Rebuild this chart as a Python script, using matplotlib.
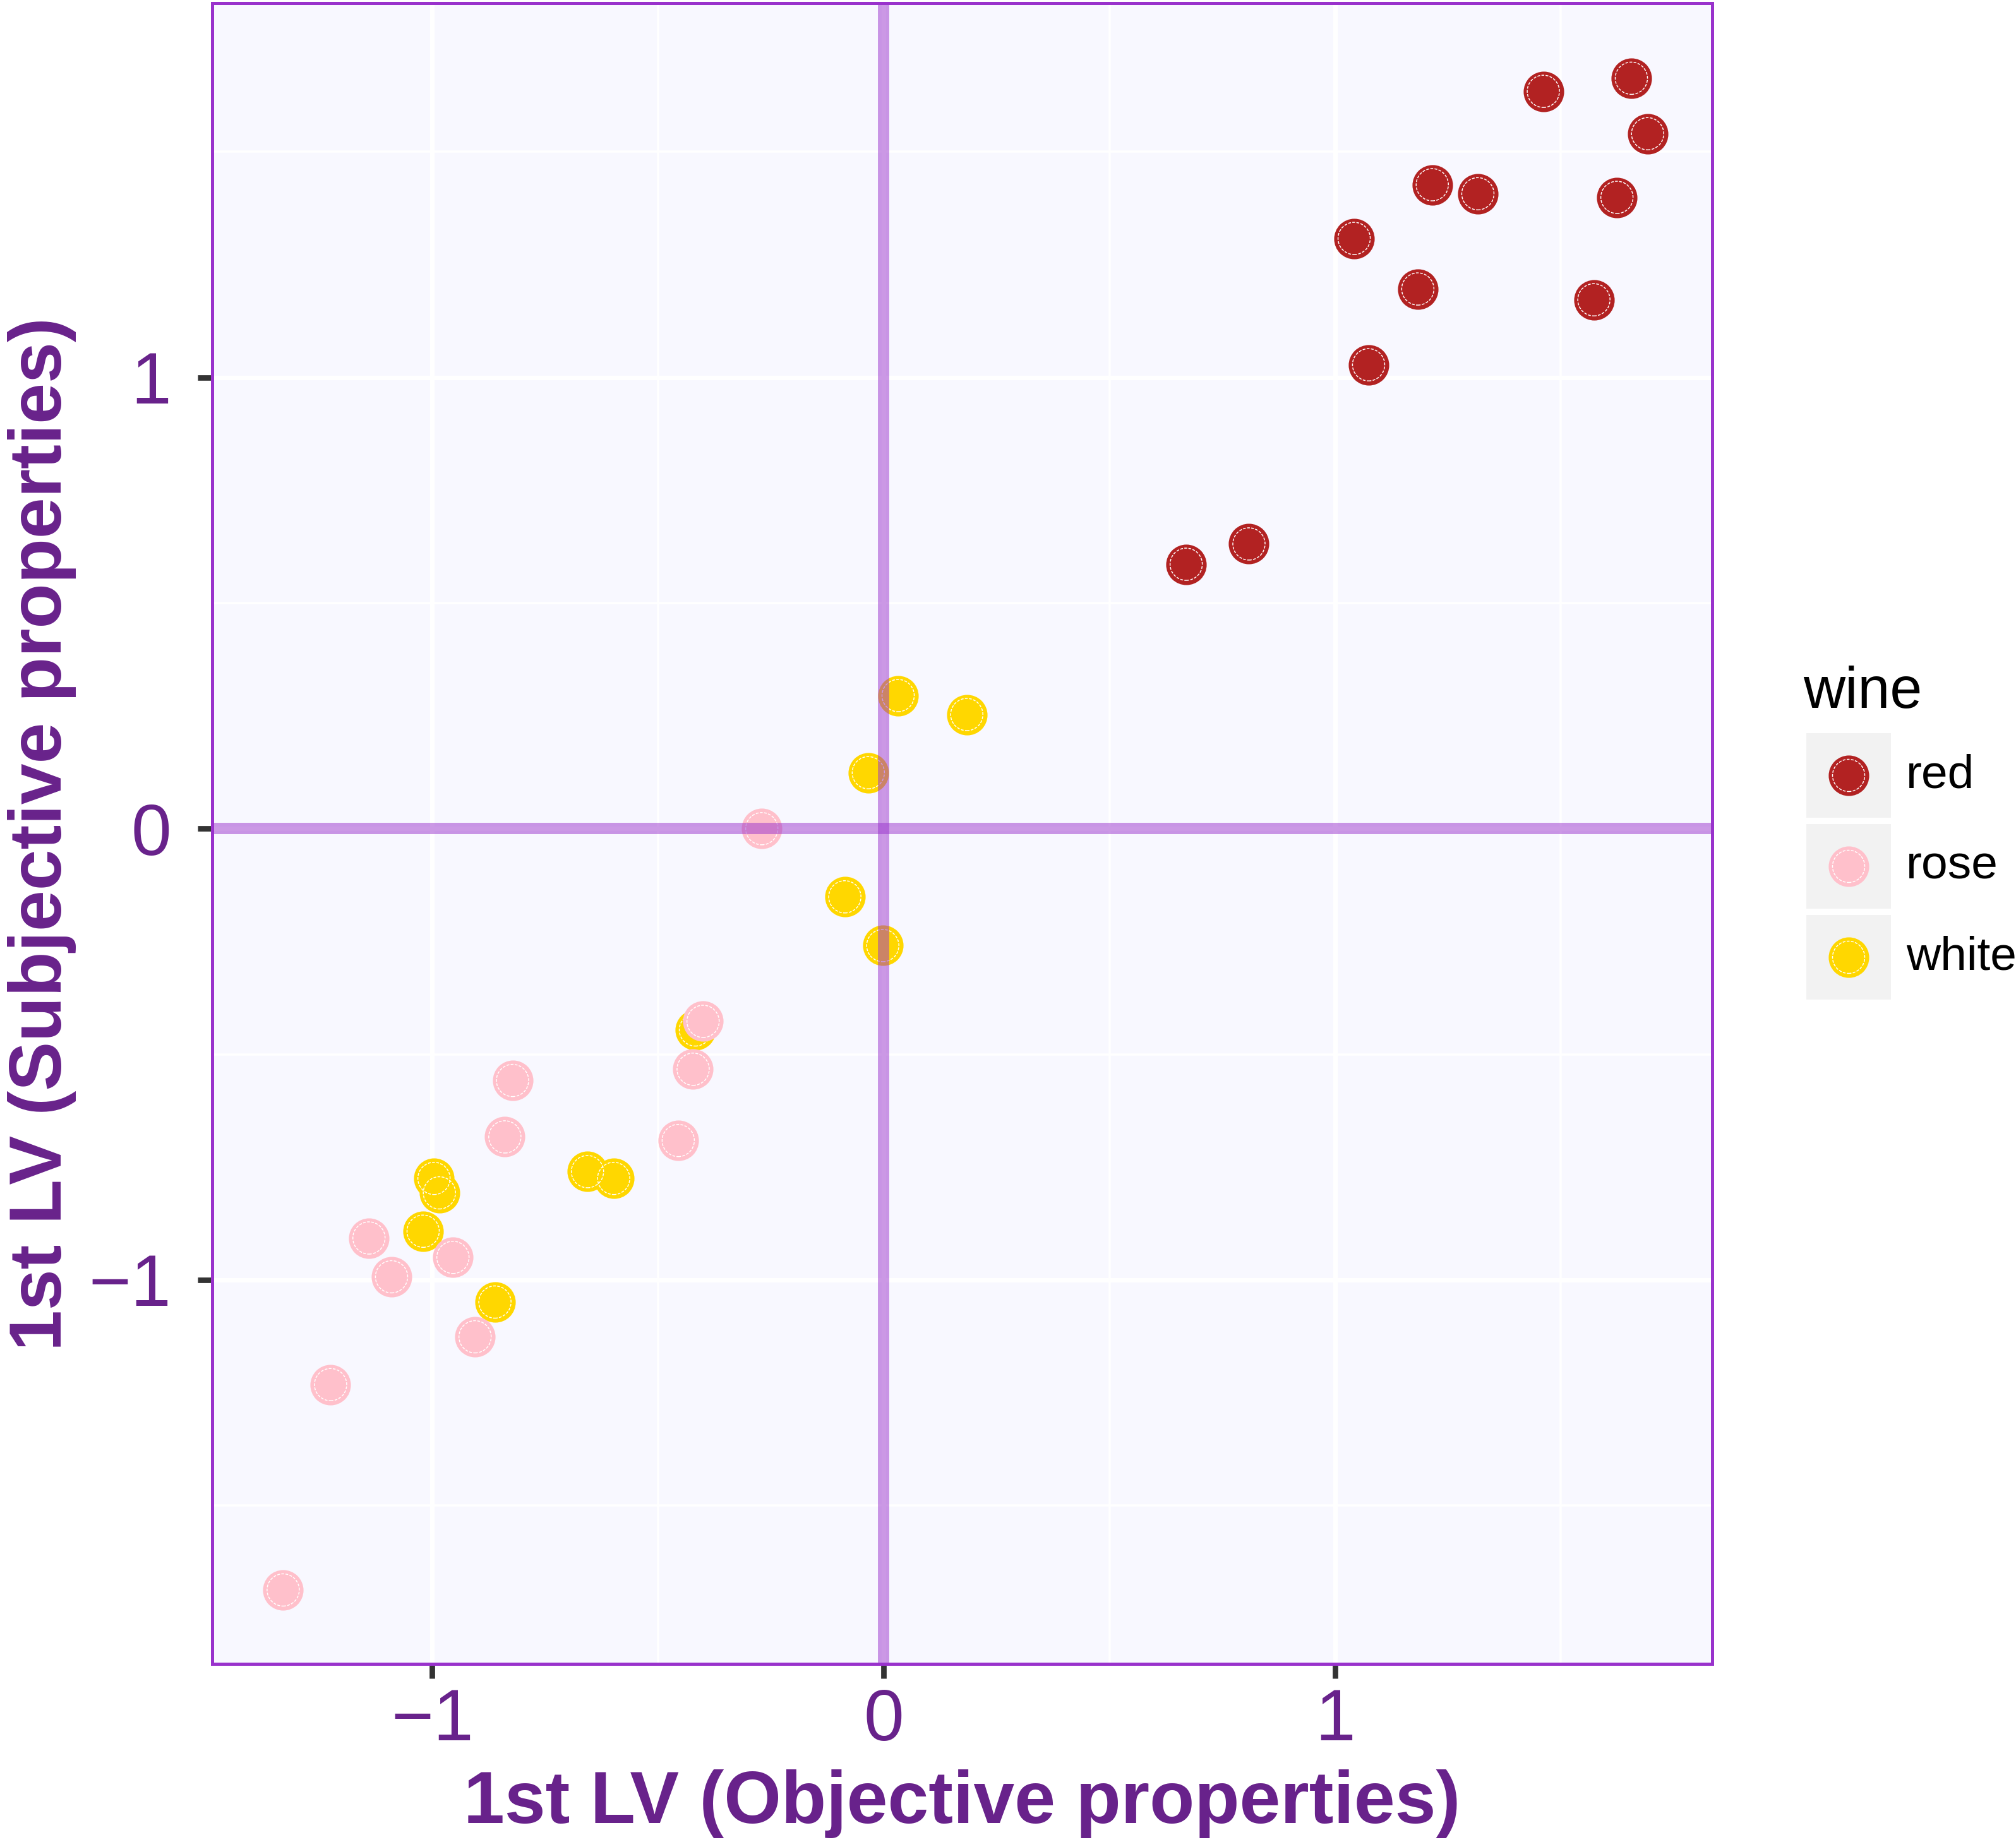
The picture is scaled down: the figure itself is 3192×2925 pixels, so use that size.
import matplotlib
matplotlib.use("Agg")
import matplotlib.pyplot as plt
from matplotlib.patches import Rectangle

plt.rcParams["font.family"] = ["Liberation Sans", "DejaVu Sans"]

# Data (latent variable scores)
red_x = [1.461, 1.656, 1.692, 1.215, 1.316, 1.624, 1.042, 1.183, 1.573, 1.074, 0.809, 0.670]
red_y = [1.634, 1.663, 1.540, 1.427, 1.407, 1.399, 1.308, 1.196, 1.172, 1.028, 0.631, 0.586]

white_x = [0.032, 0.184, -0.034, -0.086, -0.002, -0.417, -0.656, -0.598, -0.996, -0.984, -1.020, -0.861]
white_y = [0.295, 0.253, 0.124, -0.151, -0.259, -0.446, -0.760, -0.775, -0.775, -0.807, -0.892, -1.049]

rose_x = [-0.270, -0.400, -0.422, -0.822, -0.839, -0.455, -1.140, -0.954, -1.090, -0.905, -1.225, -1.330]
rose_y = [0.0, -0.427, -0.533, -0.558, -0.683, -0.691, -0.907, -0.950, -0.993, -1.126, -1.232, -1.687]

wines = ["red", "rose", "white"]
colors = {"red": "#B22222", "rose": "#FFC0CB", "white": "#FFD700"}
series = {"white": (white_x, white_y), "rose": (rose_x, rose_y), "red": (red_x, red_y)}

purple = "#68228B"
orchid = "#9932CC"
S_FILL = 237
S_RING = 150

fig = plt.figure(figsize=(10.64, 9.75), dpi=300)
ax = fig.add_axes([0.1053, 0.0991, 0.7440, 0.8991])
ax.set_facecolor("#F8F8FF")

# points: filled circle + thin dashed white ring
for name in ["white", "rose", "red"]:
    xs, ys = series[name]
    ax.scatter(xs, ys, s=S_FILL, color=colors[name], linewidths=0, zorder=2)
    ax.scatter(xs, ys, s=S_RING, facecolors="none", edgecolors="white",
               linewidths=0.35, linestyles=(0, (3, 1.5)), zorder=2)

# reference lines
ax.axhline(0, color=orchid, alpha=0.5, lw=4.3, zorder=3)
ax.axvline(0, color=orchid, alpha=0.5, lw=4.3, zorder=3)

ax.set_xlim(-1.487, 1.835)
ax.set_ylim(-1.851, 1.829)
ax.set_xticks([-1, 0, 1])
ax.set_yticks([-1, 0, 1])
ax.set_xticks([-0.5, 0.5, 1.5], minor=True)
ax.set_yticks([-1.5, -0.5, 0.5, 1.5], minor=True)
ax.set_axisbelow(True)
ax.grid(which="major", color="white", lw=1.7)
ax.grid(which="minor", color="white", lw=0.85)
ax.tick_params(which="major", length=5.6, width=2.1, color="#333333",
               labelsize=27.5, labelcolor=purple)
ax.tick_params(axis="x", which="major", pad=3.5)
ax.tick_params(axis="y", which="major", pad=10)
ax.tick_params(which="minor", length=0)
for sp in ax.spines.values():
    sp.set_color(orchid)
    sp.set_linewidth(1.2)

ax.set_xlabel("1st LV (Objective properties)", fontsize=28, fontweight="bold",
              color=purple, va="center")
ax.set_ylabel("1st LV (Subjective properties)", fontsize=28, fontweight="bold",
              color=purple, va="center")
ax.xaxis.set_label_coords(0.5, -0.084)
ax.yaxis.set_label_coords(-0.1134, 0.5)

# legend drawn in figure pixel space
lax = fig.add_axes([0, 0, 1, 1], zorder=5)
lax.set_xlim(0, 3192)
lax.set_ylim(2925, 0)
lax.axis("off")
lax.text(2855, 1121, "wine", fontsize=22, color="black", va="baseline", ha="left")
for i, name in enumerate(wines):
    y0 = 1161 + i * 144
    lax.add_patch(Rectangle((2860, y0), 134, 134, facecolor="#F2F2F2", edgecolor="none"))
    lax.scatter([2927], [y0 + 67], s=S_FILL, color=colors[name], linewidths=0)
    lax.scatter([2927], [y0 + 67], s=S_RING, facecolors="none", edgecolors="white",
                linewidths=0.35, linestyles=(0, (3, 1.5)))
    lax.text(3018, y0 + 67, name, fontsize=18, color="black", va="center", ha="left")

fig.savefig("out.png", dpi=300)
